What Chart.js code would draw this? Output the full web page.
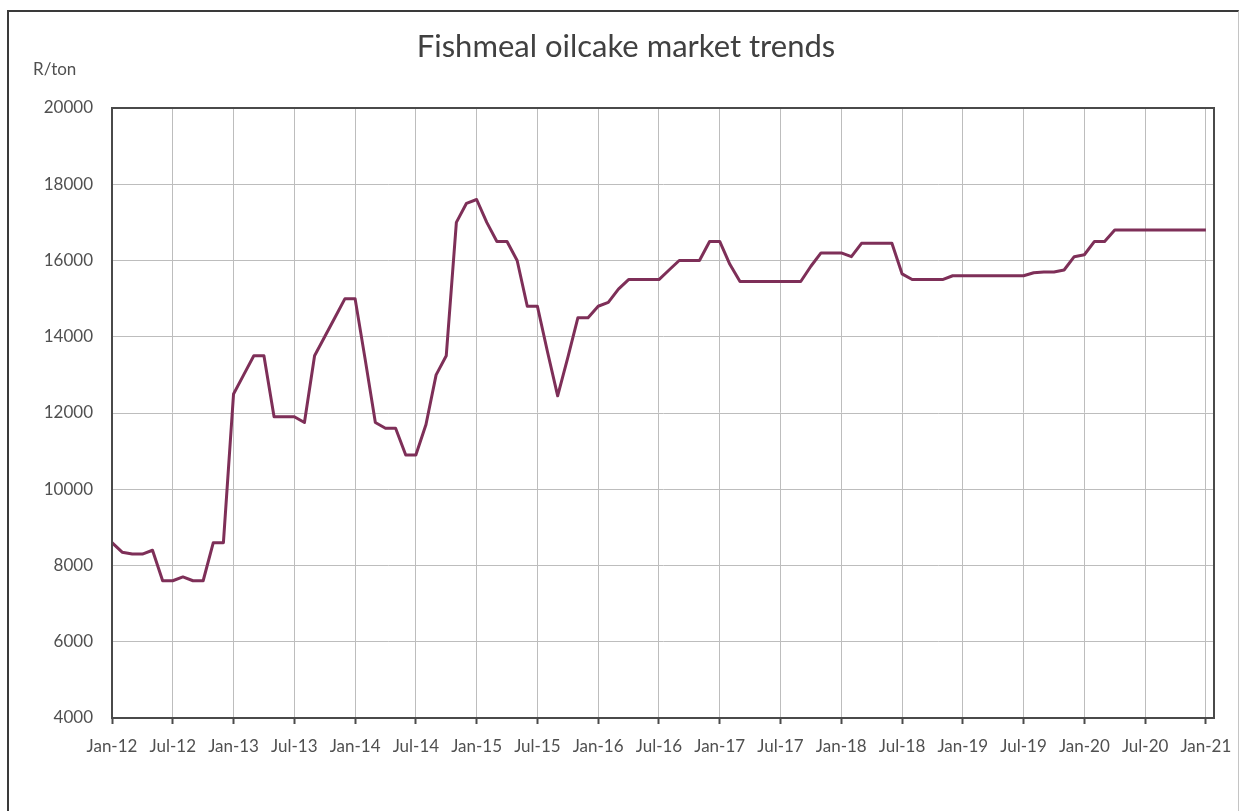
<!DOCTYPE html>
<html>
<head>
<meta charset="utf-8">
<script src="https://cdn.jsdelivr.net/npm/chart.js@4/dist/chart.umd.min.js"></script>
<style>
  html, body { margin: 0; padding: 0; background: #fff; }
  #wrap { position: relative; width: 1244px; height: 811px; overflow: hidden; }
  #frame {
    position: absolute; left: 7px; top: 10px; width: 1232px; height: 840px;
    border-left: 2px solid #3a3a3a; border-top: 2px solid #3a3a3a; border-right: 1px solid #c4c4c4;
    box-sizing: border-box;
  }
  canvas { position: absolute; left: 0; top: 0; }
</style>
</head>
<body>
<div id="wrap">
  <div id="frame"></div>
  <canvas id="c" width="1244" height="811"></canvas>
</div>
<script>
// Fishmeal oilcake price, R/ton, monthly from Jan-12 to Jan-21
const prices2012 = [8600, 8350, 8300, 8300, 8400, 7600, 7600, 7700, 7600, 7600, 8600, 8600];
const prices2013 = [12500, 13000, 13500, 13500, 11900, 11900, 11900, 11750, 13500, 14000, 14500, 15000];
const prices2014 = [15000, 13400, 11750, 11600, 11600, 10900, 10900, 11700, 13000, 13500, 17000, 17500];
const prices2015 = [17600, 17000, 16500, 16500, 16000, 14800, 14800, 13600, 12450, 13450, 14500, 14500];
const prices2016 = [14800, 14900, 15250, 15500, 15500, 15500, 15500, 15750, 16000, 16000, 16000, 16500];
const prices2017 = [16500, 15900, 15450, 15450, 15450, 15450, 15450, 15450, 15450, 15850, 16200, 16200];
const prices2018 = [16200, 16100, 16450, 16450, 16450, 16450, 15650, 15500, 15500, 15500, 15500, 15600];
const prices2019 = [15600, 15600, 15600, 15600, 15600, 15600, 15600, 15680, 15700, 15700, 15750, 16100];
const prices2020 = [16150, 16500, 16500, 16800, 16800, 16800, 16800, 16800, 16800, 16800, 16800, 16800];
const prices2021 = [16800];

const prices = [].concat(prices2012, prices2013, prices2014, prices2015, prices2016,
                         prices2017, prices2018, prices2019, prices2020, prices2021);

// Half-yearly axis labels (one every 6 months)
const tickLabels = ['Jan-12', 'Jul-12', 'Jan-13', 'Jul-13', 'Jan-14', 'Jul-14', 'Jan-15', 'Jul-15',
                    'Jan-16', 'Jul-16', 'Jan-17', 'Jul-17', 'Jan-18', 'Jul-18', 'Jan-19', 'Jul-19',
                    'Jan-20', 'Jul-20', 'Jan-21'];

const yMin = 4000, yMax = 20000, yStep = 2000;
const titleText = 'Fishmeal oilcake market trends';
const unitText = 'R/ton';

const FONT = 'Lato, "Open Sans", sans-serif';

// Plot-area outline plus chart title and unit caption
const decorations = {
  id: 'decorations',
  afterDraw(chart) {
    const { ctx, chartArea: a } = chart;
    ctx.save();
    ctx.strokeStyle = '#4a4a4a';
    ctx.lineWidth = 2;
    ctx.strokeRect(a.left, a.top, a.right - a.left, a.bottom - a.top);

    ctx.fillStyle = '#404040';
    ctx.textBaseline = 'middle';
    ctx.textAlign = 'center';
    ctx.font = '31px ' + FONT;
    ctx.fillText(titleText, 626, 47);

    ctx.fillStyle = '#505050';
    ctx.textAlign = 'left';
    ctx.font = '17px ' + FONT;
    ctx.fillText(unitText, 33, 70);
    ctx.restore();
  }
};

new Chart(document.getElementById('c'), {
  type: 'line',
  data: {
    datasets: [{
      data: prices.map((v, i) => ({ x: i, y: v })),
      borderColor: '#7e2f58',
      borderWidth: 3,
      pointRadius: 0,
      tension: 0,
      borderJoinStyle: 'round',
      fill: false
    }]
  },
  options: {
    responsive: false,
    animation: false,
    devicePixelRatio: 1,
    layout: { padding: { left: 0, top: 108, right: 30, bottom: 30 } },
    plugins: { legend: { display: false }, title: { display: false }, tooltip: { enabled: false } },
    scales: {
      x: {
        type: 'linear',
        min: 0,
        max: 108.8,
        afterFit(scale) { scale.height = 63; },
        grid: { color: '#bdbdbd', lineWidth: 1, drawTicks: true, tickLength: 6, tickColor: '#4a4a4a', tickWidth: 2 },
        border: { color: '#4a4a4a', width: 2 },
        ticks: {
          stepSize: 6,
          includeBounds: false,
          autoSkip: false,
          maxRotation: 0,
          padding: 12,
          color: '#505050',
          font: { family: FONT, size: 17 },
          callback: (v) => tickLabels[Math.round(v / 6)] ?? ''
        }
      },
      y: {
        min: yMin,
        max: yMax,
        afterFit(scale) { scale.width = 112; },
        grid: { color: '#bdbdbd', lineWidth: 1, drawTicks: false },
        border: { color: '#4a4a4a', width: 2 },
        ticks: {
          stepSize: yStep,
          padding: 19,
          color: '#505050',
          font: { family: FONT, size: 17 },
          callback: (v) => String(v)
        }
      }
    }
  },
  plugins: [decorations]
});
</script>
</body>
</html>
